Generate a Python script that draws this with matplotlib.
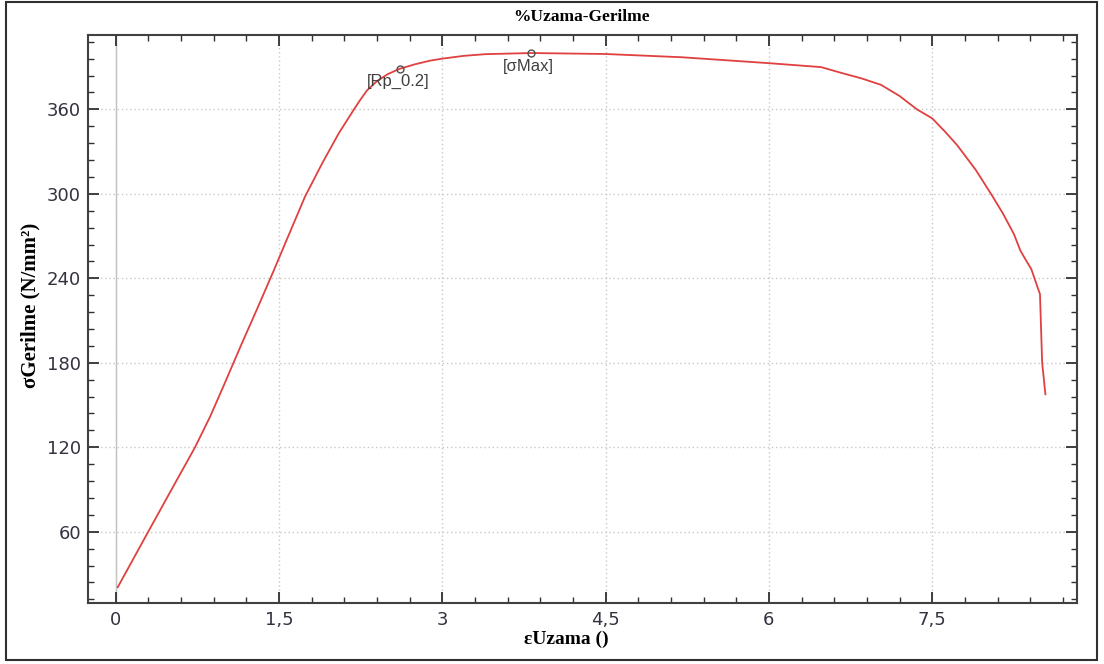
import matplotlib
matplotlib.use("Agg")
import matplotlib.pyplot as plt
from matplotlib.ticker import MultipleLocator, FuncFormatter
from matplotlib.patches import Rectangle

# strain (%) and stress (N/mm2)
uzama = [0.02, 0.30, 0.50, 0.73, 0.87, 1.00, 1.15, 1.31, 1.45, 1.57, 1.74, 1.90, 2.05,
         2.19, 2.25, 2.31, 2.40, 2.50, 2.61, 2.75, 2.89, 3.00, 3.20, 3.40, 3.82,
         4.50, 5.20, 6.00, 6.48, 6.66, 6.85, 7.03, 7.20, 7.36, 7.50, 7.62, 7.73,
         7.90, 8.04, 8.15, 8.25, 8.31, 8.36, 8.41, 8.49, 8.51, 8.54]
gerilme = [20.6, 60.0, 88.0, 120.0, 142.0, 165.0, 192.0, 220.0, 245.0, 267.0, 298.0, 322.0, 343.0,
           360.0, 367.0, 373.5, 380.0, 385.0, 388.8, 392.0, 394.6, 396.0, 398.0, 399.2, 400.0,
           399.3, 397.0, 392.8, 390.0, 386.0, 382.0, 377.4, 369.5, 360.0, 353.6, 344.0, 334.5,
           317.0, 300.0, 286.0, 271.5, 259.7, 253.0, 246.6, 228.7, 180.0, 157.6]

# marked points
nokta_ad = ["[Rp_0.2]", "[σMax]"]
nokta_x = [2.61, 3.82]
nokta_y = [388.8, 400.0]

x_ticks = [0, 1.5, 3, 4.5, 6, 7.5]
y_ticks = [60, 120, 180, 240, 300, 360]

fig = plt.figure(figsize=(11.04, 6.64), dpi=100)
ax = fig.add_axes([88/1104, 61/664, (1077-88)/1104, (603-35)/664])

ax.plot(uzama, gerilme, color="#e0403f", lw=1.3, zorder=3)
ax.plot(nokta_x, nokta_y, "o", ms=5, mfc="none", mec="#505050", mew=1.0, zorder=4)
ax.text(nokta_x[0] - 0.01, nokta_y[0] - 3.5, nokta_ad[0], ha="center", va="top",
        fontsize=12, color="#404040", family="Liberation Sans")
ax.text(nokta_x[1] - 0.03, nokta_y[1] - 4, nokta_ad[1], ha="center", va="top",
        fontsize=12, color="#404040", family="Liberation Sans")

ax.axvline(0, color="#c0c0c0", lw=1.0, zorder=1)
ax.set_xlim(-0.253, 8.83)
ax.set_ylim(9.4, 412.8)

ax.set_xticks(x_ticks)
ax.set_yticks(y_ticks)
ax.xaxis.set_minor_locator(MultipleLocator(0.3))
ax.yaxis.set_minor_locator(MultipleLocator(12))
ax.xaxis.set_major_formatter(FuncFormatter(lambda v, p: ("%g" % v).replace(".", ",")))
ax.grid(True, which="major", color="#c8c8c8", ls=(0, (1, 2)), lw=1.0)

ax.tick_params(which="both", direction="in", top=True, right=True, color="#303030")
ax.tick_params(which="major", length=8, width=1.3)
ax.tick_params(which="minor", length=4, width=1.0)
ax.tick_params(axis="y", labelsize=13, labelcolor="#333340", pad=5)
ax.tick_params(axis="x", labelsize=13, labelcolor="#333340", pad=6)
for s in ax.spines.values():
    s.set_color("#404040")
    s.set_linewidth(1.5)
for lb in ax.get_xticklabels() + ax.get_yticklabels():
    lb.set_family("DejaVu Sans")

fig.text(582/1104, 1 - 17/664, "%Uzama-Gerilme", ha="center", va="center",
         fontsize=12.5, fontweight="bold", family="Liberation Serif")
fig.text(566/1104, 1 - 639/664, "εUzama ()", ha="center", va="center",
         fontsize=14, fontweight="bold", family="Liberation Serif")
fig.text(30/1104, 1 - 305/664, "σGerilme (N/mm²)", ha="center", va="center",
         rotation=90, fontsize=15, fontweight="bold", family="Liberation Serif")

# outer frame of the picture
fig.patches.append(Rectangle((6/1104, 4/664), 1091/1104, 658/664, transform=fig.transFigure,
                             fill=False, ec="#303030", lw=1.5))

fig.savefig("out.png", dpi=100)
